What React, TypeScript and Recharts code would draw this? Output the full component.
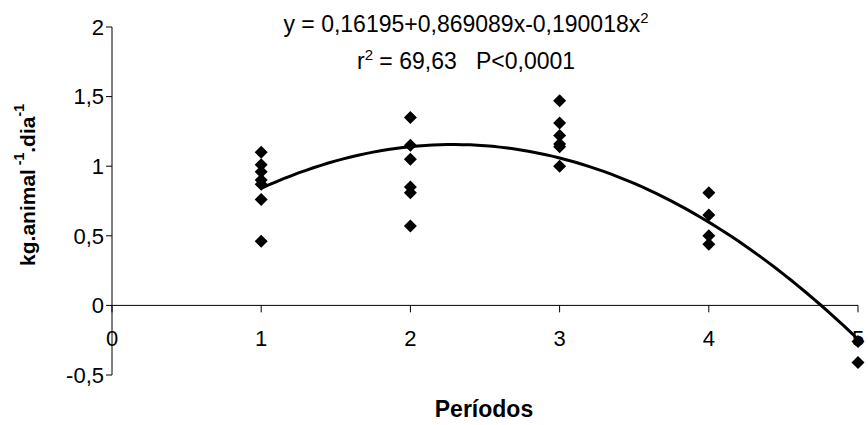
import React from 'react';
import {
  ComposedChart,
  Scatter,
  Line,
  XAxis,
  YAxis,
  ReferenceLine,
  ReferenceDot,
  Label,
} from 'recharts';

// daily gain observed in each period (kg/animal/day)
const period1 = [1.1, 1.01, 0.96, 0.9, 0.87, 0.76, 0.46];
const period2 = [1.35, 1.15, 1.05, 0.85, 0.81, 0.57];
const period3 = [1.47, 1.31, 1.22, 1.16, 1.14, 1.0];
const period4 = [0.81, 0.65, 0.5, 0.44];
const period5 = [-0.26, -0.41];
const periodValues = [period1, period2, period3, period4, period5];

const xTicks = [0, 1, 2, 3, 4, 5];
const yTicks = [-0.5, 0, 0.5, 1, 1.5, 2];

// quadratic regression: y = b0 + b1*x + b2*x^2
const b0 = 0.16195;
const b1 = 0.869089;
const b2 = -0.190018;
const r2Label = '69,63';
const pLabel = 'P<0,0001';

const FONT = 'Arial, "Liberation Sans", sans-serif';

const points = periodValues.flatMap((vals, i) => vals.map((y) => ({ x: i + 1, y })));

// fitted curve over the observed range (periods 1 to 5)
const fitLine = Array.from({ length: 81 }, (_, i) => {
  const x = 1 + i * 0.05;
  return { x, fit: b0 + b1 * x + b2 * x * x };
});

const comma = (v: number) => String(v).replace('.', ',');

const Diamond = (props: any) => {
  const { cx, cy } = props;
  const r = 6.5;
  return <path d={`M${cx},${cy - r}L${cx + r},${cy}L${cx},${cy + r}L${cx - r},${cy}Z`} fill="#000" />;
};

const YTitle = (props: any) => {
  const vb = props.viewBox || { x: 0, y: 27, width: 112, height: 348 };
  const cx = vb.x + 27;
  const cy = vb.y + vb.height / 2 - 16;
  return (
    <text
      transform={`translate(${cx},${cy}) rotate(-90)`}
      textAnchor="middle"
      dominantBaseline="central"
      fontFamily={FONT}
      fontWeight="bold"
      fontSize={21}
      fill="#000"
    >
      kg.animal
      <tspan dy={-8} fontSize={14}> -1</tspan>
      <tspan dy={8}>.dia</tspan>
      <tspan dy={-8} fontSize={14}>-1</tspan>
    </text>
  );
};

const supStyle = { fontSize: 15, verticalAlign: 9, lineHeight: 0 };

export default function App() {
  const b0s = comma(b0);
  const b1s = comma(b1);
  const b2s = comma(Math.abs(b2));
  return (
    <div style={{ position: 'absolute', left: 0, top: 0, width: 868, height: 425, background: '#fff' }}>
      <ComposedChart
        width={868}
        height={425}
        margin={{ top: 27, right: 10, bottom: 50, left: 0 }}
      >
        <XAxis type="number" dataKey="x" domain={[0, 5]} ticks={xTicks} hide />
        <YAxis
          type="number"
          domain={[-0.5, 2]}
          ticks={yTicks}
          width={112}
          axisLine={{ stroke: '#000' }}
          tickLine={{ stroke: '#000' }}
          tickSize={6}
          tickFormatter={comma}
          tick={{ fill: '#000', fontSize: 22, fontFamily: FONT }}
          interval={0}
        >
          <Label content={<YTitle />} position="insideLeft" />
        </YAxis>
        <ReferenceLine y={0} stroke="#000" strokeWidth={1} />
        {xTicks.map((t) => (
          <ReferenceLine
            key={`tk${t}`}
            segment={[{ x: t, y: 0 }, { x: t, y: -0.05 }]}
            stroke="#000"
          />
        ))}
        {xTicks.map((t) => (
          <ReferenceDot
            key={`lb${t}`}
            x={t}
            y={0}
            r={0}
            stroke="none"
            fill="none"
            label={{
              value: String(t),
              position: 'bottom',
              offset: 25,
              fill: '#000',
              fontSize: 22,
              fontFamily: FONT,
            }}
          />
        ))}
        <Line
          data={fitLine}
          dataKey="fit"
          type="linear"
          stroke="#000"
          strokeWidth={3}
          dot={false}
          activeDot={false}
          isAnimationActive={false}
        />
        <Scatter data={points} dataKey="y" shape={<Diamond />} isAnimationActive={false} />
      </ComposedChart>
      <div
        style={{
          position: 'absolute',
          left: 266,
          top: 6,
          width: 400,
          textAlign: 'center',
          fontFamily: FONT,
          fontSize: 23,
          lineHeight: '37px',
          color: '#000',
          whiteSpace: 'nowrap',
        }}
      >
        <div>
          y = {b0s}+{b1s}x-{b2s}x<sup style={supStyle}>2</sup>
        </div>
        <div>
          r<sup style={supStyle}>2</sup> = {r2Label}&nbsp;&nbsp;&nbsp;{pLabel}
        </div>
      </div>
      <div
        style={{
          position: 'absolute',
          left: 384,
          top: 398,
          width: 200,
          textAlign: 'center',
          fontFamily: FONT,
          fontWeight: 'bold',
          fontSize: 23,
          lineHeight: '22px',
          color: '#000',
        }}
      >
        Períodos
      </div>
    </div>
  );
}
